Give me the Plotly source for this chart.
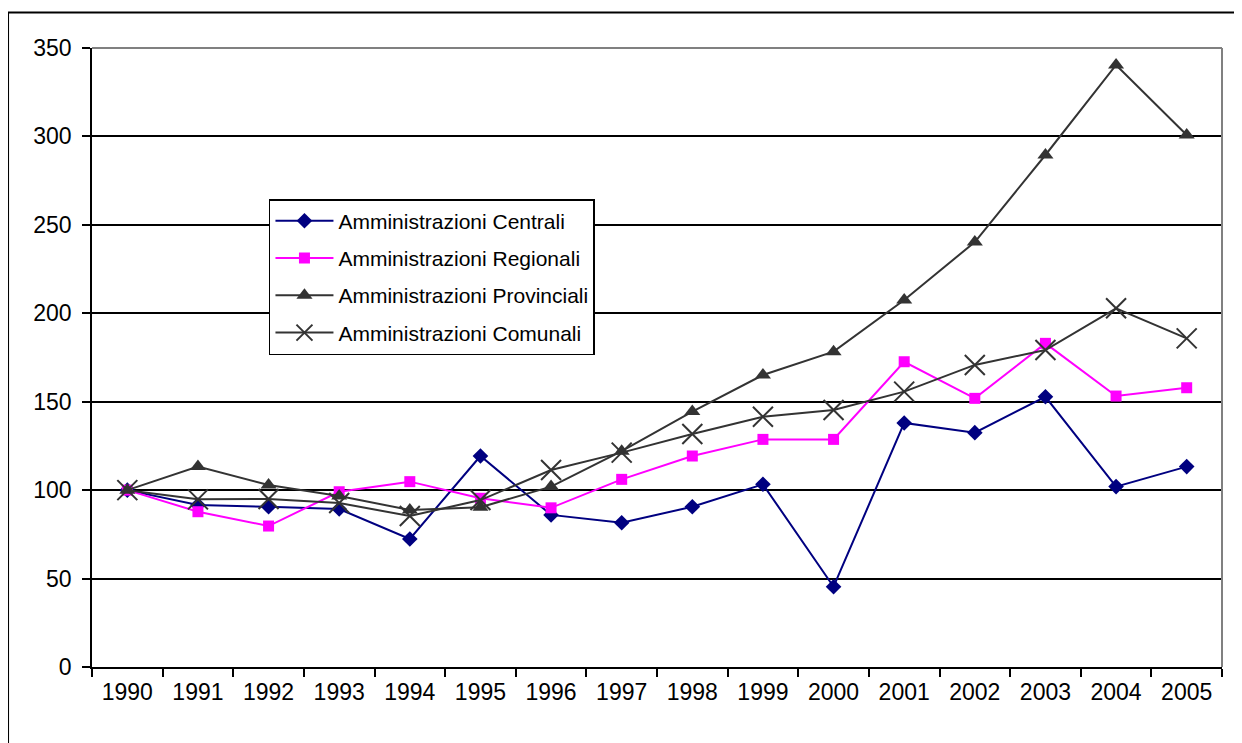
import plotly.graph_objects as go

# ── Data ──────────────────────────────────────────────────────────────────────

years = ["1990", "1991", "1992", "1993", "1994", "1995", "1996", "1997",
         "1998", "1999", "2000", "2001", "2002", "2003", "2004", "2005"]

centrali = [100, 91.6, 90.6, 89.3, 72.4, 119.3, 86, 81.6,
            90.6, 103.3, 45.4, 138, 132.5, 152.8, 102, 113.3]
regionali = [100, 87.8, 79.7, 99.1, 104.8, 95.4, 90, 106.1,
             119.3, 128.7, 128.7, 172.6, 151.9, 183, 153.2, 157.9]
provinciali = [100, 113.3, 102.9, 96.7, 88.8, 90.3, 102, 122,
               144.4, 165.1, 178.3, 207.5, 240.3, 289.5, 340.4, 300.8]
comunali = [100, 94.8, 95, 92.7, 85.4, 94.4, 111.4, 121.2,
            131.7, 141.5, 145.3, 155.7, 170.8, 179.2, 202.8, 185.8]

y_ticks = [0, 50, 100, 150, 200, 250, 300, 350]

# ── Styling ───────────────────────────────────────────────────────────────────

FONT = "Arial, Liberation Sans, sans-serif"
DARK = "#333333"

series = [
    ("Amministrazioni Centrali", centrali, "#000080",
     dict(symbol="diamond", size=12, color="#000080")),
    ("Amministrazioni Regionali", regionali, "#FF00FF",
     dict(symbol="square", size=11, color="#FF00FF")),
    ("Amministrazioni Provinciali", provinciali, DARK,
     dict(symbol="triangle-up", size=14, color=DARK)),
    ("Amministrazioni Comunali", comunali, DARK,
     dict(symbol="x-thin", size=20, color=DARK, line=dict(color=DARK, width=2))),
]

fig = go.Figure()
for i, (name, vals, col, mk) in enumerate(series):
    fig.add_trace(go.Scatter(
        x=years, y=vals, name=name, mode="lines+markers",
        line=dict(color=col, width=2), marker=mk,
        legendgroup=f"g{i}",
    ))

# page body has an 8px margin, so the figure is shrunk by that amount
fig.update_layout(
    width=1234, height=735,
    paper_bgcolor="white", plot_bgcolor="white",
    margin=dict(l=84, r=20, t=40, b=76),
    font=dict(family=FONT, color="black", size=23),
    showlegend=True,
    legend=dict(
        x=0.1566, y=0.756, xanchor="left", yanchor="top",
        bgcolor="white", bordercolor="black", borderwidth=1.5,
        font=dict(family=FONT, size=21, color="black"),
        tracegroupgap=7, itemwidth=58,
    ),
    xaxis=dict(
        type="category", range=[-0.5, 15.5], tickson="boundaries",
        showgrid=False, showline=True, linecolor="black", linewidth=1.5,
        ticks="outside", ticklen=8, tickcolor="black", tickwidth=1.5,
        tickfont=dict(size=23), ticklabelstandoff=4, zeroline=False,
    ),
    yaxis=dict(
        range=[0, 350], tickvals=y_ticks,
        showgrid=True, gridcolor="black", gridwidth=1.5,
        showline=True, linecolor="black", linewidth=1.5,
        ticks="outside", ticklen=8, tickcolor="black", tickwidth=1.5,
        tickfont=dict(size=23), ticklabelstandoff=6, zeroline=False,
    ),
    shapes=[
        # gray plot-area border (top and right)
        dict(type="line", xref="paper", yref="paper", x0=0, x1=1, y0=1, y1=1,
             line=dict(color="#808080", width=2), layer="above"),
        dict(type="line", xref="paper", yref="paper", x0=1, x1=1, y0=0, y1=1,
             line=dict(color="#808080", width=2), layer="above"),
        # outer chart frame (left and top visible)
        dict(type="path", xref="paper", yref="paper",
             path="M -0.0743,-0.2 L -0.0743,1.0574 L 1.05,1.0574",
             line=dict(color="black", width=2)),
    ],
)

fig.write_html("out.html")
